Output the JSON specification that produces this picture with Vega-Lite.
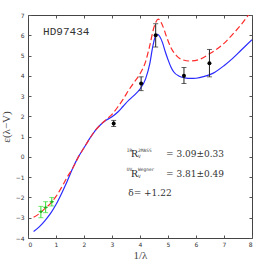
{
  "$schema": "https://vega.github.io/schema/vega-lite/v6.json",
  "width": 224,
  "height": 223,
  "autosize": {"type": "none"},
  "padding": {"left": 28, "top": 15, "right": 14, "bottom": 28},
  "background": "white",
  "config": {
    "view": {"stroke": "#444", "strokeWidth": 1},
    "axis": {"grid": false, "domain": false, "tickColor": "#555", "labelColor": "#333", "labelFont": "DejaVu Sans", "labelFontSize": 6, "titleFont": "Liberation Serif", "titleFontWeight": "normal", "titleFontSize": 11, "titleColor": "#444"}
  },
  "resolve": {"axis": {"x": "independent", "y": "independent"}},
  "layer": [
    {
      "data": {"values": [
        {"x":0.2,"y":-3.68},{"x":0.4,"y":-3.45},{"x":0.6,"y":-3.15},{"x":0.8,"y":-2.8},{"x":1.0,"y":-2.35},
        {"x":1.2,"y":-1.8},{"x":1.4,"y":-1.2},{"x":1.6,"y":-0.55},{"x":1.8,"y":0.0},{"x":2.0,"y":0.45},
        {"x":2.2,"y":0.9},{"x":2.4,"y":1.3},{"x":2.6,"y":1.6},{"x":2.8,"y":1.82},{"x":3.0,"y":1.98},
        {"x":3.2,"y":2.2},{"x":3.4,"y":2.5},{"x":3.6,"y":2.8},{"x":3.8,"y":3.05},{"x":4.0,"y":3.35},
        {"x":4.2,"y":3.85},{"x":4.35,"y":4.6},{"x":4.45,"y":5.4},{"x":4.55,"y":5.95},{"x":4.62,"y":6.05},
        {"x":4.7,"y":5.95},{"x":4.8,"y":5.65},{"x":4.9,"y":5.2},{"x":5.0,"y":4.8},{"x":5.1,"y":4.45},
        {"x":5.2,"y":4.2},{"x":5.4,"y":3.98},{"x":5.6,"y":3.9},{"x":5.8,"y":3.87},{"x":6.0,"y":3.88},
        {"x":6.3,"y":3.97},{"x":6.6,"y":4.12},{"x":7.0,"y":4.5},{"x":7.3,"y":4.85},{"x":7.6,"y":5.25},{"x":8.0,"y":5.78}
      ]},
      "mark": {"type": "line", "color": "#2a2aff", "strokeWidth": 1.2, "interpolate": "monotone", "clip": true},
      "encoding": {
        "x": {"field": "x", "type": "quantitative", "scale": {"domain": [0, 8], "nice": false},
              "axis": {"orient": "bottom", "values": [0,1,2,3,4,5,6,7,8], "tickSize": -3, "labelPadding": 6, "title": "1/λ", "titlePadding": 2}},
        "y": {"field": "y", "type": "quantitative", "scale": {"domain": [-4, 7], "nice": false},
              "axis": {"orient": "left", "values": [-4,-3,-2,-1,0,1,2,3,4,5,6,7], "tickSize": -3, "labelPadding": 7, "title": "ε(λ−V)", "titlePadding": 4}}
      }
    },
    {
      "data": {"values": [
        {"x":0.2,"y":-2.98},{"x":0.4,"y":-2.8},{"x":0.6,"y":-2.55},{"x":0.8,"y":-2.3},{"x":1.0,"y":-1.95},
        {"x":1.2,"y":-1.5},{"x":1.4,"y":-1.0},{"x":1.6,"y":-0.55},{"x":1.8,"y":0.0},{"x":2.0,"y":0.45},
        {"x":2.2,"y":0.9},{"x":2.4,"y":1.3},{"x":2.6,"y":1.6},{"x":2.8,"y":1.85},{"x":3.0,"y":2.1},
        {"x":3.2,"y":2.45},{"x":3.4,"y":2.85},{"x":3.6,"y":3.3},{"x":3.8,"y":3.7},{"x":4.0,"y":4.1},
        {"x":4.2,"y":4.7},{"x":4.35,"y":5.5},{"x":4.5,"y":6.4},{"x":4.65,"y":6.8},{"x":4.8,"y":6.5},
        {"x":4.95,"y":5.92},{"x":5.1,"y":5.4},{"x":5.3,"y":5.0},{"x":5.5,"y":4.8},{"x":5.8,"y":4.73},
        {"x":6.1,"y":4.8},{"x":6.5,"y":5.1},{"x":7.0,"y":5.6},{"x":7.33,"y":6.08},{"x":7.6,"y":6.5},{"x":7.9,"y":7.05}
      ]},
      "mark": {"type": "line", "color": "#ff2a2a", "strokeWidth": 1.2, "strokeDash": [6, 3], "interpolate": "monotone", "clip": true},
      "encoding": {
        "x": {"field": "x", "type": "quantitative", "axis": {"orient": "top", "values": [0,1,2,3,4,5,6,7,8], "tickSize": -3, "labels": false, "title": null}},
        "y": {"field": "y", "type": "quantitative", "axis": {"orient": "right", "values": [-4,-3,-2,-1,0,1,2,3,4,5,6,7], "tickSize": -3, "labels": false, "title": null}}
      }
    },
    {
      "data": {"values": [
        {"x":3.06,"y":1.65,"lo":1.5,"hi":1.8},
        {"x":4.04,"y":3.62,"lo":3.27,"hi":3.95},
        {"x":4.56,"y":6.0,"lo":5.42,"hi":6.57},
        {"x":5.57,"y":4.0,"lo":3.62,"hi":4.41},
        {"x":6.48,"y":4.62,"lo":3.95,"hi":5.3}
      ]},
      "layer": [
        {"mark": {"type": "errorbar", "ticks": {"size": 5, "color": "#222"}, "color": "#222", "thickness": 1},
         "encoding": {"x": {"field": "x", "type": "quantitative", "axis": null}, "y": {"field": "lo", "type": "quantitative", "axis": null}, "y2": {"field": "hi"}}},
        {"mark": {"type": "circle", "color": "black", "size": 16, "opacity": 1},
         "encoding": {"x": {"field": "x", "type": "quantitative", "axis": null}, "y": {"field": "y", "type": "quantitative", "axis": null}}}
      ]
    },
    {
      "data": {"values": [
        {"x":0.46,"y":-2.7,"lo":-3.0,"hi":-2.44,"xlo":0.38,"xhi":0.54},
        {"x":0.63,"y":-2.49,"lo":-2.75,"hi":-2.21,"xlo":0.55,"xhi":0.71},
        {"x":0.85,"y":-2.21,"lo":-2.42,"hi":-2.0,"xlo":0.77,"xhi":0.93}
      ]},
      "layer": [
        {"mark": {"type": "errorbar", "ticks": {"size": 5, "color": "#33e033"}, "color": "#33e033", "thickness": 1},
         "encoding": {"x": {"field": "x", "type": "quantitative", "axis": null}, "y": {"field": "lo", "type": "quantitative", "axis": null}, "y2": {"field": "hi"}}},
        {"mark": {"type": "rule", "color": "#33e033", "strokeWidth": 1},
         "encoding": {"x": {"field": "xlo", "type": "quantitative", "axis": null}, "x2": {"field": "xhi"}, "y": {"field": "y", "type": "quantitative", "axis": null}}},
        {"mark": {"type": "circle", "color": "#22aa22", "size": 6, "opacity": 1},
         "encoding": {"x": {"field": "x", "type": "quantitative", "axis": null}, "y": {"field": "y", "type": "quantitative", "axis": null}}}
      ]
    },
    {
      "data": {"values": [{"x":0.54,"y":6.15,"t":"HD97434"}]},
      "mark": {"type": "text", "font": "Liberation Mono", "fontSize": 11, "align": "left", "baseline": "middle", "color": "#333"},
      "encoding": {"x": {"field": "x", "type": "quantitative", "axis": null}, "y": {"field": "y", "type": "quantitative", "axis": null}, "text": {"field": "t"}}
    },
    {
      "data": {"values": [
        {"x":4.93,"y":0.14,"t":"=  3.09±0.33"},
        {"x":4.93,"y":-0.83,"t":"=  3.81±0.49"},
        {"x":3.58,"y":-1.8,"t":"δ=  +1.22"}
      ]},
      "mark": {"type": "text", "font": "DejaVu Serif", "fontSize": 9, "align": "left", "baseline": "middle", "color": "#333"},
      "encoding": {"x": {"field": "x", "type": "quantitative", "axis": null}, "y": {"field": "y", "type": "quantitative", "axis": null}, "text": {"field": "t"}}
    },
    {
      "data": {"values": [
        {"x":3.68,"y":0.14,"t":"R"},
        {"x":3.68,"y":-0.83,"t":"R"}
      ]},
      "mark": {"type": "text", "font": "Liberation Serif", "fontSize": 11, "align": "left", "baseline": "middle", "color": "#333"},
      "encoding": {"x": {"field": "x", "type": "quantitative", "axis": null}, "y": {"field": "y", "type": "quantitative", "axis": null}, "text": {"field": "t"}}
    },
    {
      "data": {"values": [
        {"x":3.53,"y":0.3,"t":"IR"},
        {"x":3.93,"y":0.3,"t":"2MASS"},
        {"x":3.93,"y":0.0,"t":"V"},
        {"x":3.53,"y":-0.67,"t":"UV"},
        {"x":3.93,"y":-0.67,"t":"Wegner"},
        {"x":3.93,"y":-0.97,"t":"V"}
      ]},
      "mark": {"type": "text", "font": "DejaVu Sans Mono", "fontSize": 4.5, "align": "left", "baseline": "middle", "color": "#333"},
      "encoding": {"x": {"field": "x", "type": "quantitative", "axis": null}, "y": {"field": "y", "type": "quantitative", "axis": null}, "text": {"field": "t"}}
    }
  ]
}
